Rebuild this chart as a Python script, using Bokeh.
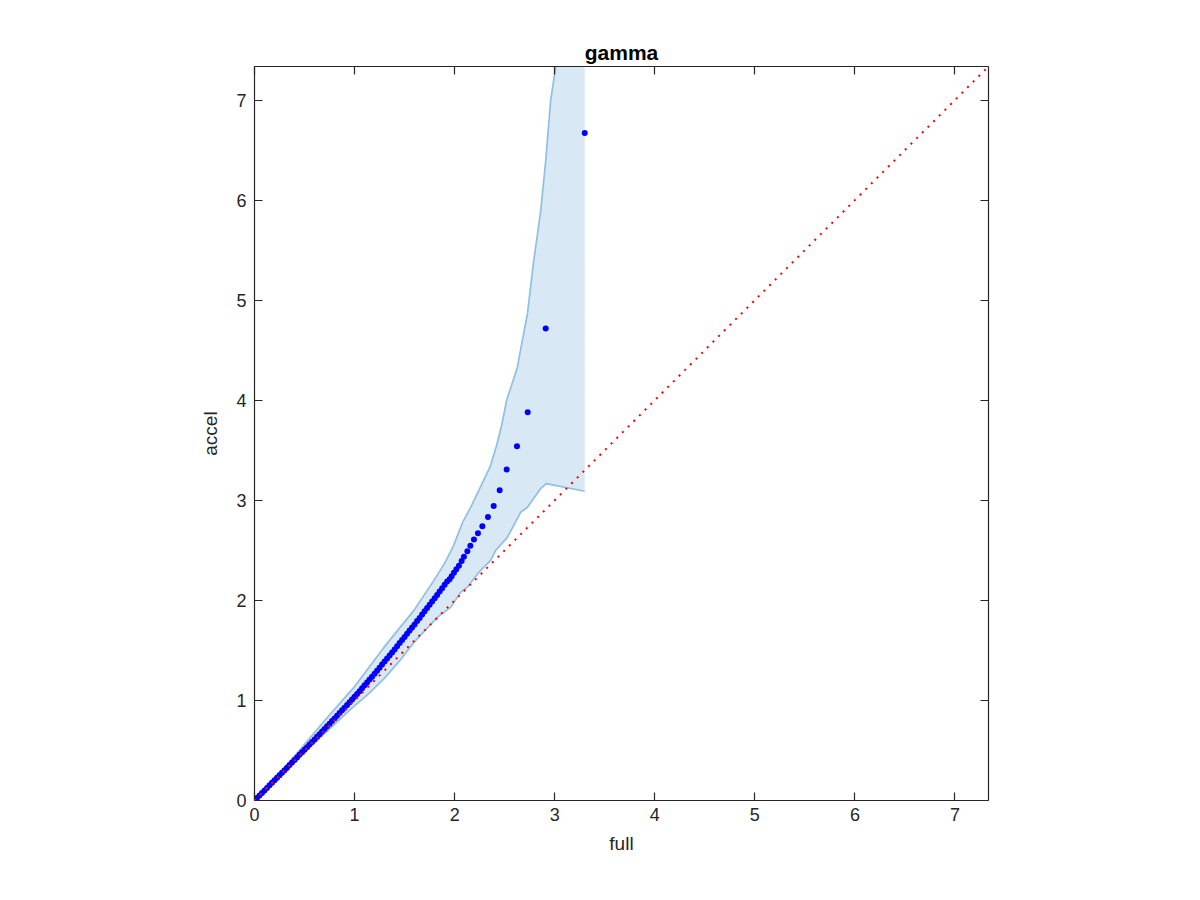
from bokeh.plotting import figure
from bokeh.models import Range1d, LinearAxis, FixedTicker, Slope
from bokeh.embed import file_html
from bokeh.resources import INLINE

# ---- data ----
tick_values = [0, 1, 2, 3, 4, 5, 6, 7]

# quantile pairs (full, accel)
qq_full = [0.000, 0.025, 0.050, 0.075, 0.100, 0.125, 0.150, 0.175, 0.200, 0.225,
           0.250, 0.275, 0.300, 0.325, 0.350, 0.375, 0.400, 0.425, 0.450, 0.475,
           0.500, 0.525, 0.550, 0.575, 0.600, 0.625, 0.650, 0.675, 0.700, 0.725,
           0.750, 0.775, 0.800, 0.825, 0.850, 0.875, 0.900, 0.925, 0.950, 0.975,
           1.000, 1.025, 1.050, 1.075, 1.100, 1.125, 1.150, 1.175, 1.200, 1.225,
           1.250, 1.275, 1.300, 1.325, 1.350, 1.375, 1.400, 1.425, 1.450, 1.475,
           1.500, 1.525, 1.550, 1.575, 1.600, 1.625, 1.650, 1.675, 1.700, 1.725,
           1.750, 1.775, 1.800, 1.825, 1.850, 1.875, 1.900, 1.925,
           1.950, 1.970, 1.993, 2.017, 2.043, 2.070, 2.093, 2.127, 2.157, 2.193,
           2.233, 2.277, 2.333, 2.390, 2.450, 2.520, 2.623, 2.730, 2.910, 3.300]
qq_accel = [0.000, 0.025, 0.050, 0.076, 0.101, 0.126, 0.152, 0.177, 0.202, 0.227,
            0.253, 0.278, 0.303, 0.328, 0.354, 0.379, 0.404, 0.430, 0.456, 0.481,
            0.507, 0.533, 0.559, 0.584, 0.610, 0.636, 0.663, 0.689, 0.715, 0.741,
            0.768, 0.794, 0.820, 0.847, 0.874, 0.901, 0.928, 0.955, 0.982, 1.009,
            1.036, 1.065, 1.093, 1.122, 1.151, 1.180, 1.208, 1.237, 1.266, 1.297,
            1.327, 1.358, 1.388, 1.419, 1.449, 1.480, 1.510, 1.541, 1.573, 1.604,
            1.635, 1.666, 1.698, 1.729, 1.760, 1.793, 1.825, 1.858, 1.890, 1.923,
            1.955, 1.988, 2.020, 2.054, 2.088, 2.121, 2.155, 2.189,
            2.210, 2.240, 2.277, 2.310, 2.347, 2.393, 2.437, 2.490, 2.547, 2.607,
            2.670, 2.740, 2.833, 2.943, 3.100, 3.307, 3.540, 3.880, 4.717, 6.670]

# confidence band, upper edge
band_upper_x = [0.000, 0.300, 0.693, 0.993, 1.293, 1.593, 1.793, 1.900, 1.990, 2.080,
                2.160, 2.290, 2.360, 2.420, 2.470, 2.520, 2.627, 2.677, 2.727, 2.790,
                2.860, 2.910, 2.960, 3.010, 3.040]
band_upper_y = [0.000, 0.325, 0.790, 1.130, 1.530, 1.900, 2.200, 2.370, 2.550, 2.780,
                2.930, 3.200, 3.350, 3.550, 3.750, 4.000, 4.330, 4.600, 4.860, 5.390,
                5.890, 6.390, 7.000, 7.330, 7.700]
# confidence band, lower edge
band_lower_x = [0.000, 0.300, 0.600, 0.960, 1.150, 1.293, 1.450, 1.593, 1.827, 1.960,
                2.060, 2.127, 2.260, 2.360, 2.410, 2.527, 2.660, 2.727, 2.860, 2.915,
                3.300]
band_lower_y = [0.000, 0.288, 0.577, 0.910, 1.075, 1.215, 1.395, 1.580, 1.830, 1.930,
                2.080, 2.133, 2.300, 2.400, 2.500, 2.630, 2.880, 2.930, 3.117, 3.167,
                3.090]

axis_max = 7.335

# ---- figure ----
FONT = "Liberation Sans"
TXT = "#262626"

p = figure(width=1188, height=890,
           x_range=Range1d(0, axis_max), y_range=Range1d(0, axis_max),
           output_backend="svg", toolbar_location=None,
           min_border_left=254, min_border_right=200,
           min_border_top=66, min_border_bottom=90,
           title="gamma")
p.background_fill_color = "white"
p.border_fill_color = "white"
p.outline_line_color = None
p.xgrid.visible = False
p.ygrid.visible = False

p.title.align = "center"
p.title.text_font = FONT
p.title.text_font_size = "21px"
p.title.text_font_style = "bold"
p.title.text_color = "black"
p.title.standoff = 6

# band fill
patch_x = band_upper_x + [band_lower_x[-1]] + band_lower_x[::-1]
patch_y = band_upper_y + [band_upper_y[-1]] + band_lower_y[::-1]
p.patch(patch_x, patch_y, fill_color="#d8e8f4", fill_alpha=1.0, line_color=None)
p.line(band_upper_x, band_upper_y, line_color="#8fc0e2", line_width=1.7)
p.line(band_lower_x, band_lower_y, line_color="#8fc0e2", line_width=1.7)

# quantile points
p.scatter(qq_full, qq_accel, size=6, marker="circle",
          fill_color="#0000ff", line_color=None)

# reference line y = x
p.add_layout(Slope(gradient=1, y_intercept=0, line_color="#ff0000",
                   line_width=2, line_dash="2 6"))

# extra axes (top and right) for the box
top_axis = LinearAxis()
right_axis = LinearAxis()
p.add_layout(top_axis, "above")
p.add_layout(right_axis, "right")

for ax in p.axis:
    ax.ticker = FixedTicker(ticks=tick_values)
    ax.axis_line_color = TXT
    ax.axis_line_width = 1.2
    ax.major_tick_line_color = TXT
    ax.major_tick_line_width = 1.2
    ax.major_tick_in = 8
    ax.major_tick_out = 0
    ax.minor_tick_line_color = None
    ax.major_label_text_font = FONT
    ax.major_label_text_font_size = "18px"
    ax.major_label_text_color = TXT
    ax.axis_label_text_font = FONT
    ax.axis_label_text_font_size = "19px"
    ax.axis_label_text_font_style = "normal"
    ax.axis_label_text_color = TXT

for ax in (top_axis, right_axis):
    ax.major_label_text_color = None
    ax.major_label_text_font_size = "1px"
    ax.major_label_standoff = 0

bottom_axis = p.below[0]
left_axis = p.left[0]
bottom_axis.axis_label = "full"
left_axis.axis_label = "accel"
bottom_axis.major_label_standoff = 7
left_axis.major_label_standoff = 8
bottom_axis.axis_label_standoff = 9
left_axis.axis_label_standoff = 12

open("out.html", "w").write(file_html(p, INLINE))
